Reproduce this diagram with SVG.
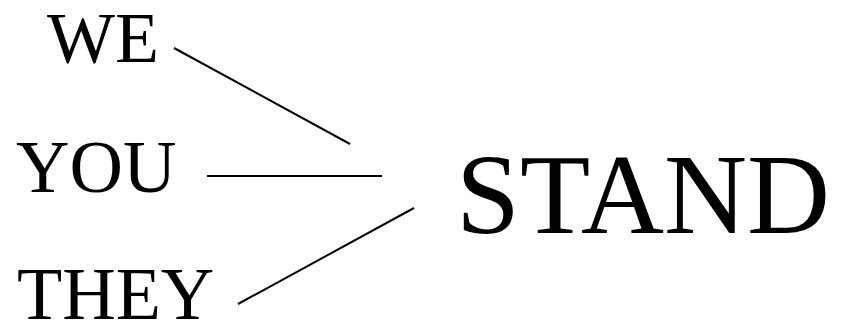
<svg xmlns="http://www.w3.org/2000/svg" width="847" height="324" viewBox="0 0 847 324">
<style>
text{font-family:"Liberation Serif","Times New Roman",serif;fill:#000}
.s{font-size:74px}
.b{font-size:115px}
line{stroke:#000;stroke-width:2}
</style>
<rect width="847" height="324" fill="#fff"/>
<g id="we"><text class="s" x="47" y="62" style="font-size:72px">WE</text></g>
<g id="you"><text class="s" x="16" y="192">YOU</text></g>
<g id="they"><text class="s" x="17" y="319">THEY</text></g>
<g id="stand"><text class="b" x="456" y="233">STAND</text></g>
<g id="connectors">
<line x1="174" y1="48" x2="350" y2="144"/>
<line x1="207" y1="176" x2="382" y2="176"/>
<line x1="238" y1="304" x2="414" y2="208"/>
</g>
</svg>
